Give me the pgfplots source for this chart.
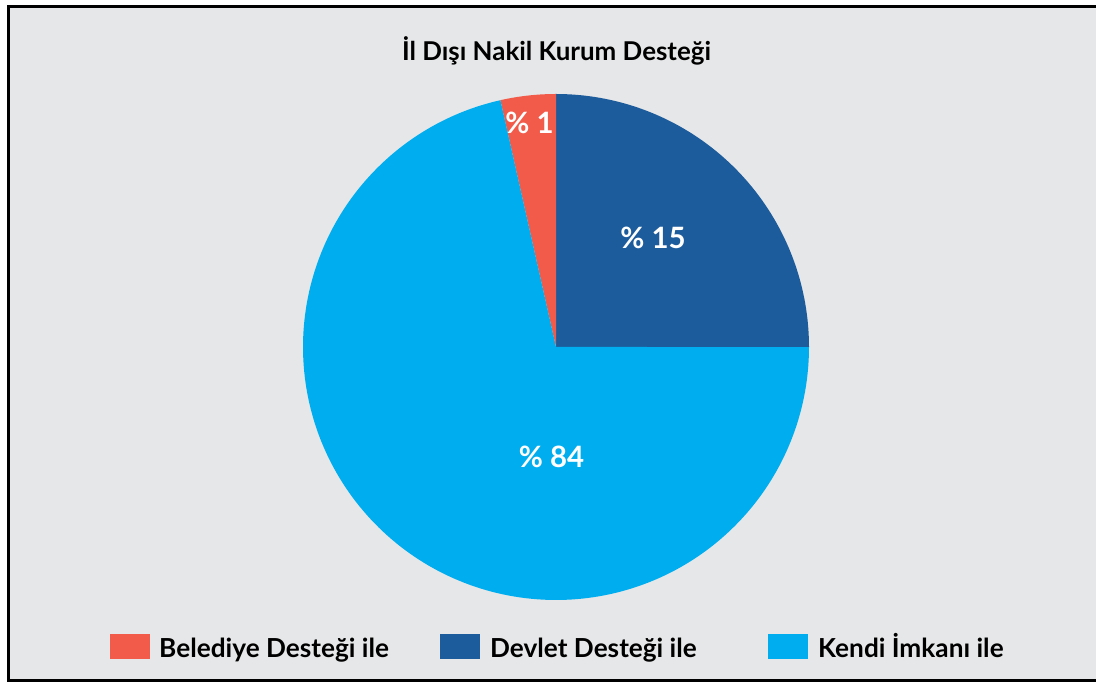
\documentclass[border=0pt]{standalone}
\usepackage{pgfplots}
\pgfplotsset{compat=1.18}
\usepackage{pgfplotstable}
\usepackage{fontspec}
\setmainfont{Lato}
\definecolor{bgray}{HTML}{E6E7E8}
\definecolor{cred}{HTML}{F25A4A}
\definecolor{cdblue}{HTML}{1D5C9C}
\definecolor{clblue}{HTML}{00AEEF}
% slices: start angle, end angle (degrees, counter-clockwise from east)
\pgfplotstableread{
name      start  end    lx     ly     lab
Devlet    0      90     653    444.5  15
Belediye  90     102.7  529.5  559.5  1
Kendi     102.7  360    551.5  225.5  84
}\slices
\begin{document}
\begin{tikzpicture}
\begin{axis}[
  x=1bp, y=1bp, scale only axis,
  xmin=0, xmax=1096, ymin=0, ymax=682,
  hide axis, clip=false,
]
% background and frame
\fill[white] (axis cs:0,0) rectangle (axis cs:1096,682);
\fill[bgray] (axis cs:8.5,1.5) rectangle (axis cs:1096,675.5);
\begin{scope}
\clip (axis cs:0,0) rectangle (axis cs:1096,682);
\draw[black, line width=3bp] (axis cs:1100,675.5) -- (axis cs:8.5,675.5) -- (axis cs:8.5,1.5) -- (axis cs:1100,1.5);
\end{scope}
% pie slices
\pgfplotstablegetelem{0}{start}\of\slices \edef\sA{\pgfplotsretval}
\pgfplotstablegetelem{0}{end}\of\slices \edef\eA{\pgfplotsretval}
\addplot[fill=cdblue, draw=none, domain=\sA:\eA, samples=80, smooth]
  ({556+253*cos(x)},{335+253*sin(x)}) -- (axis cs:556,335) -- cycle;
\pgfplotstablegetelem{1}{start}\of\slices \edef\sB{\pgfplotsretval}
\pgfplotstablegetelem{1}{end}\of\slices \edef\eB{\pgfplotsretval}
\addplot[fill=cred, draw=none, domain=\sB:\eB, samples=20]
  ({556+253*cos(x)},{335+253*sin(x)}) -- (axis cs:556,335) -- cycle;
\pgfplotstablegetelem{2}{start}\of\slices \edef\sC{\pgfplotsretval}
\pgfplotstablegetelem{2}{end}\of\slices \edef\eC{\pgfplotsretval}
\addplot[fill=clblue, draw=none, domain=\sC:\eC, samples=200]
  ({556+253*cos(x)},{335+253*sin(x)}) -- (axis cs:556,335) -- cycle;
% slice labels
\addplot[only marks, mark=none, nodes near coords={\bfseries\%~\pgfplotspointmeta},
  nodes near coords style={white, font=\fontsize{29.5}{29.5}\selectfont, anchor=center},
  point meta=explicit symbolic]
  table[x=lx, y=ly, meta=lab] {\slices};
% title
\node[font=\fontsize{26}{26}\selectfont\bfseries, anchor=base] at (axis cs:556.5,621) {İl Dışı Nakil Kurum Desteği};
% legend
\fill[cred] (axis cs:110,23) rectangle (axis cs:150,48);
\fill[cdblue] (axis cs:440,23) rectangle (axis cs:480,48);
\fill[clblue] (axis cs:768,23) rectangle (axis cs:808,48);
\node[font=\fontsize{26.3}{26.3}\selectfont\bfseries, anchor=base west, inner sep=0pt] at (axis cs:159,24) {Belediye Desteği ile};
\node[font=\fontsize{26.3}{26.3}\selectfont\bfseries, anchor=base west, inner sep=0pt] at (axis cs:490,24) {Devlet Desteği ile};
\node[font=\fontsize{26.3}{26.3}\selectfont\bfseries, anchor=base west, inner sep=0pt] at (axis cs:818,24) {Kendi İmkanı ile};
\end{axis}
\end{tikzpicture}
\end{document}
